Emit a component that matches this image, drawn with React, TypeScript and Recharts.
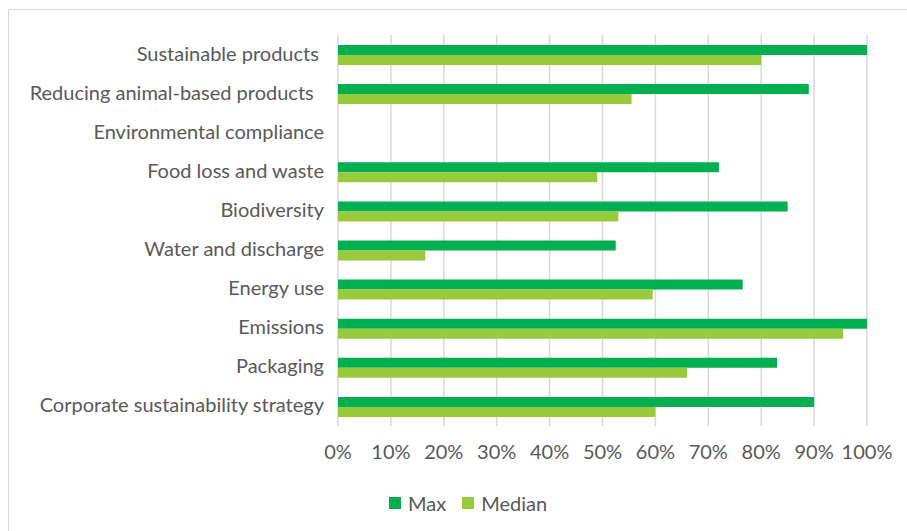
import { BarChart, Bar, XAxis, YAxis, CartesianGrid, Legend } from "recharts";

// categories, top to bottom
const categories = [
  "Sustainable products ",
  "Reducing animal-based products  ",
  "Environmental compliance",
  "Food loss and waste",
  "Biodiversity",
  "Water and discharge",
  "Energy use",
  "Emissions",
  "Packaging",
  "Corporate sustainability strategy",
];

// percentages (no bars for Environmental compliance)
const maxValues = [100, 89, null, 72, 85, 52.5, 76.5, 100, 83, 90];
const medianValues = [80, 55.5, null, 49, 53, 16.5, 59.5, 95.5, 66, 60];

const xTicks = [0, 10, 20, 30, 40, 50, 60, 70, 80, 90, 100];

const data = categories.map((name, i) => ({
  name,
  max: maxValues[i],
  median: medianValues[i],
}));

const FONT = "Lato, 'Open Sans', sans-serif";
const TEXT = "#595959";
const GRID = "#d9d9d9";

const CategoryTick = ({ x, y, payload }: any) => (
  <text
    x={x}
    y={y}
    dy={-2}
    textAnchor="end"
    dominantBaseline="central"
    fill={TEXT}
    fontSize={20}
    fontFamily={FONT}
    style={{ whiteSpace: "pre" }}
  >
    {payload.value}
  </text>
);

const renderLegend = (props: any) => (
  <div style={{ display: "flex", alignItems: "center", height: 24, fontFamily: FONT, fontSize: 20, color: TEXT }}>
    {props.payload.map((entry: any) => (
      <span key={entry.value} style={{ display: "flex", alignItems: "center", marginRight: 16 }}>
        <span style={{ width: 12, height: 12, background: entry.color, marginRight: 7, display: "inline-block" }} />
        {entry.value}
      </span>
    ))}
  </div>
);

export default function App() {
  return (
    <div style={{ position: "absolute", left: 0, top: 0, width: 907, height: 531, overflow: "hidden", background: "#fff" }}>
      <div
        style={{
          position: "absolute",
          left: 8,
          top: 9,
          width: 1000,
          height: 1000,
          border: `1.5px solid ${GRID}`,
        }}
      />
      <div style={{ position: "absolute", left: 0, top: 0 }}>
        <BarChart
          width={907}
          height={531}
          data={data}
          layout="vertical"
          margin={{ top: 35, right: 40, bottom: 36, left: 0 }}
          barGap={0}
          barSize={10}
        >
          <CartesianGrid horizontal={false} stroke={GRID} strokeWidth={1.5} />
          <XAxis
            type="number"
            domain={[0, 100]}
            ticks={xTicks}
            tickFormatter={(v) => `${v}%`}
            axisLine={false}
            tickLine={false}
            tickSize={0}
            tickMargin={19}
            height={45}
            tick={{ fill: TEXT, fontSize: 20, fontFamily: FONT }}
          />
          <YAxis
            type="category"
            dataKey="name"
            width={338}
            interval={0}
            axisLine={false}
            tickLine={false}
            tickSize={0}
            tickMargin={14}
            tick={<CategoryTick />}
          />
          <Legend
            content={renderLegend}
            wrapperStyle={{ left: 389, top: 491, width: "auto", height: 24 }}
          />
          <Bar dataKey="max" name="Max" fill="#00B050" isAnimationActive={false} />
          <Bar dataKey="median" name="Median" fill="#99CA3C" isAnimationActive={false} />
        </BarChart>
      </div>
    </div>
  );
}
